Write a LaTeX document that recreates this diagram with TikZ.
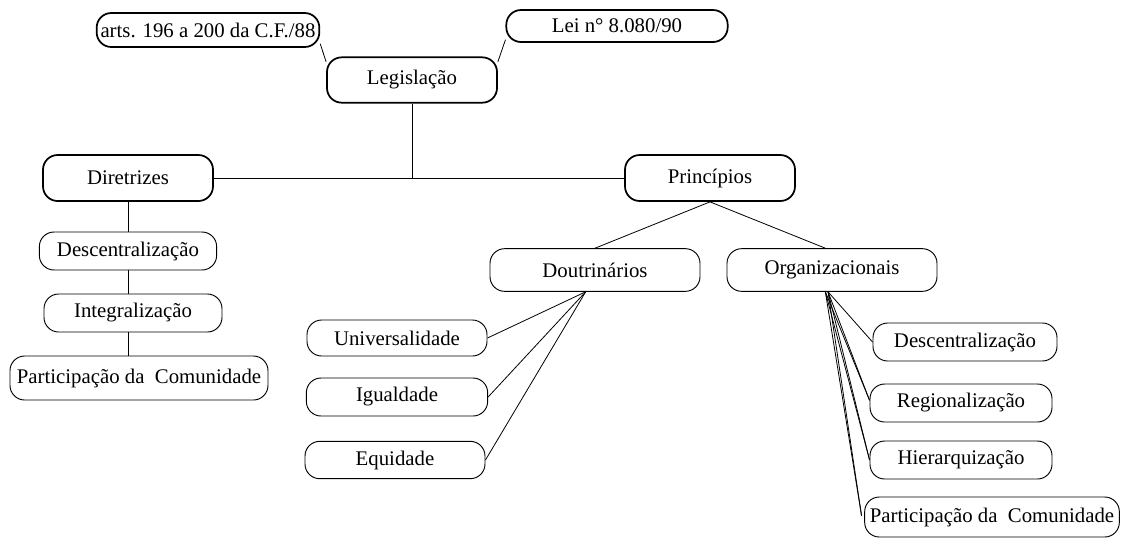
\documentclass[tikz,border=0pt]{standalone}
\usepackage{fontspec}
\setmainfont{Liberation Serif}
\begin{document}
\begin{tikzpicture}[x=0.75pt,y=-0.75pt,
  every node/.style={font=\fontsize{15.6}{18}\selectfont, inner sep=0pt},
  thickbox/.style={draw, line width=1.3pt, rounded corners=11pt},
  thinbox/.style={draw, line width=0.7pt, rounded corners=11pt},
  link/.style={line width=0.6pt}]
\useasboundingbox (0,0) rectangle (1123,537);
% top level
\node[thickbox, minimum width=167pt, minimum height=25.5pt] (arts) at (208,30) {arts. 196 a 200 da C.F./88};
\node[thickbox, minimum width=166pt, minimum height=24pt] (lei) at (617,26) {Lei n° 8.080/90};
\node[thickbox, minimum width=127.5pt, minimum height=34pt] (leg) at (412,80) {Legislação};
\node[thickbox, minimum width=127.5pt, minimum height=34.5pt] (dir) at (128,178) {Diretrizes};
\node[thickbox, minimum width=127.5pt, minimum height=34.5pt] (pri) at (710,178) {Princípios};
% diretrizes
\node[thinbox, minimum width=133pt, minimum height=28.5pt] (descL) at (128,251) {Descentralização};
\node[thinbox, minimum width=133.5pt, minimum height=28.5pt] (integ) at (133,313) {Integralização};
\node[thinbox, minimum width=193.5pt, minimum height=33pt] (partL) at (139,378) {Participação da\ \ Comunidade};
% principios
\node[thinbox, minimum width=157.5pt, minimum height=32pt] (dout) at (595,270) {Doutrinários};
\node[thinbox, minimum width=157.5pt, minimum height=32pt] (org) at (832,270) {Organizacionais};
\node[thinbox, minimum width=135pt, minimum height=27pt] (univ) at (397,338) {Universalidade};
\node[thinbox, minimum width=136pt, minimum height=28.5pt] (igual) at (397,397) {Igualdade};
\node[thinbox, minimum width=135pt, minimum height=28pt] (equi) at (395,460) {Equidade};
\node[thinbox, minimum width=138pt, minimum height=28.5pt] (descR) at (965,342) {Descentralização};
\node[thinbox, minimum width=136.5pt, minimum height=28.5pt] (reg) at (961,403) {Regionalização};
\node[thinbox, minimum width=136.5pt, minimum height=28.5pt] (hier) at (961,460) {Hierarquização};
\node[thinbox, minimum width=191pt, minimum height=30pt] (partR) at (992,517) {Participação da\ \ Comunidade};
% connectors
\draw[link] (arts.-7) -- (leg.168);
\draw[link] (lei.187) -- (leg.12);
\coordinate (junc) at (leg.south |- dir.east);
\draw[link] (leg.south) -- (junc);
\draw[link] (dir.east) -- (pri.west);
\draw[link] (dir.south) -- (dir.south |- descL.north);
\draw[link] (dir.south |- descL.south) -- (dir.south |- integ.north);
\draw[link] (dir.south |- integ.south) -- (dir.south |- partL.north);
\draw[link] (pri.south) -- (dout.north);
\draw[link] (pri.south) -- ([xshift=-5pt]org.north);
\coordinate (db) at ([xshift=-7pt]dout.south);
\draw[link] (db) -- (univ.east);
\draw[link] (db) -- (igual.east);
\draw[link] (db) -- (equi.east);
\coordinate (ob) at ([xshift=-3pt]org.south);
\coordinate (ob2) at ([xshift=-5pt]org.south);
\draw[link] (ob) -- (descR.west);
\draw[link] (ob) -- ([yshift=2pt]reg.west);
\draw[link] (ob2) -- ([yshift=2pt]reg.west);
\draw[link] (ob) -- (hier.west);
\draw[link] (ob2) -- (hier.west);
\draw[link] (ob) -- ([xshift=-2pt,yshift=1pt]partR.west);
\draw[link] (ob2) -- ([xshift=-2pt,yshift=1pt]partR.west);
\end{tikzpicture}
\end{document}
